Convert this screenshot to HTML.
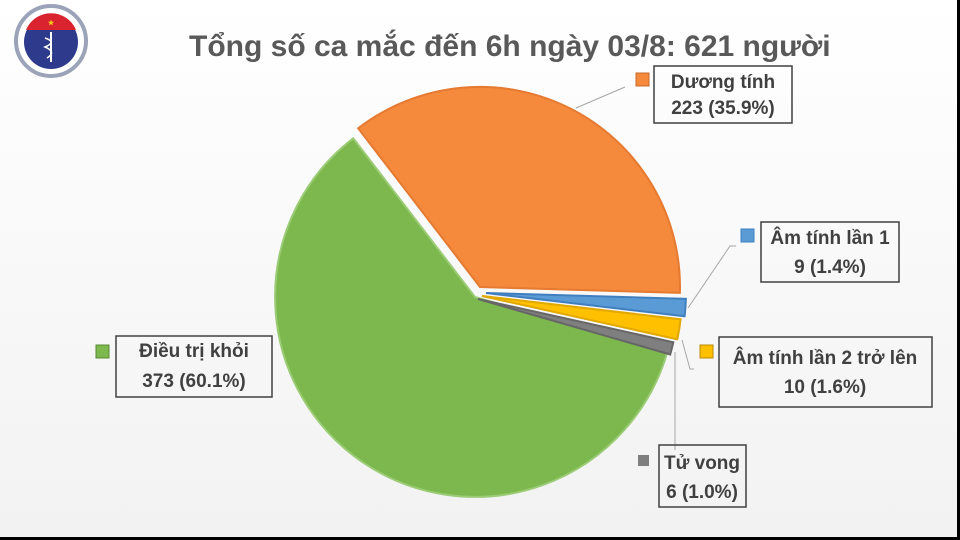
<!DOCTYPE html>
<html><head><meta charset="utf-8"><style>
html,body{margin:0;padding:0;background:#000}
svg{display:block}
text{font-family:"Liberation Sans",sans-serif;font-weight:bold}
</style></head><body>
<svg width="960" height="540" viewBox="0 0 960 540">
<defs><linearGradient id="bg" x1="0" y1="0" x2="0" y2="1"><stop offset="0" stop-color="#ffffff"/><stop offset="1" stop-color="#f2f2f2"/></linearGradient></defs>
<rect x="0" y="0" width="957" height="537" fill="url(#bg)"/>
<!-- logo -->
<circle cx="51" cy="41" r="35" fill="#fff" stroke="#9aa3b8" stroke-width="4"/>
<circle cx="51" cy="42" r="27" fill="#2e3a8c"/>
<path d="M26,30 A27,27 0 0 1 76,30 Z" fill="#d9232e"/>
<text x="51" y="25" font-size="7" fill="#f7d117" text-anchor="middle">★</text>
<path d="M51,32 L51,62" stroke="#fff" stroke-width="2"/>
<path d="M45,38 Q57,42 45,47 Q57,52 47,58" stroke="#fff" stroke-width="1.5" fill="none"/>
<text x="189" y="56" font-size="30" fill="#595959">Tổng số ca mắc đến 6h ngày 03/8: 621 người</text>
<!-- pie -->
<g stroke-width="2">
<path d="M475,297 L667.2,352.5 A200,200 0 1 1 353.2,138.3 Z" fill="#7cb84e" stroke="#9bcc75"/>
<path d="M480,287 L358.2,128.3 A200,200 0 0 1 679.9,292.9 Z" fill="#f5893c" stroke="#e57a30"/>
<path d="M486,293 L685.9,298.9 A200,200 0 0 1 684.6,316.3 Z" fill="#5b9bd5" stroke="#3f7fc0"/>
<path d="M482,296 L680.6,319.3 A200,200 0 0 1 677.3,339.3 Z" fill="#ffc000" stroke="#e0a800"/>
<path d="M478,299 L673.3,342.3 A200,200 0 0 1 670.2,354.5 Z" fill="#7f7f7f" stroke="#666"/>
</g>
<!-- leaders -->
<g stroke="#a6a6a6" stroke-width="1" fill="none">
<path d="M576,108 L625,87"/>
<path d="M688,308 L730,246 L736,246"/>
<path d="M682,340 L690,369 L694,369"/>
<path d="M675,352 L675,450"/>
</g>
<!-- labels -->
<g fill="none" stroke="#404040" stroke-width="1.5">
<rect x="654" y="66" width="138" height="57"/>
<rect x="761" y="222" width="138" height="60"/>
<rect x="719" y="337" width="213" height="70"/>
<rect x="659" y="445" width="87" height="62"/>
<rect x="116" y="336" width="156" height="61"/>
</g>
<rect x="636" y="73" width="13" height="13" fill="#f5893c" stroke="#c66a2a"/>
<rect x="741" y="229" width="13" height="13" fill="#5b9bd5" stroke="#3f7fc0"/>
<rect x="700" y="345" width="13" height="13" fill="#ffc000" stroke="#b88a00"/>
<rect x="638" y="455" width="11" height="11" fill="#7f7f7f"/>
<rect x="96" y="345" width="13" height="13" fill="#7cb84e" stroke="#5c8a38"/>
<g font-size="19" fill="#404040" text-anchor="middle">
<text x="723" y="88">Dương tính</text>
<text x="723" y="114">223 (35.9%)</text>
<text x="830" y="244">Âm tính lần 1</text>
<text x="830" y="273">9 (1.4%)</text>
<text x="825" y="364">Âm tính lần 2 trở lên</text>
<text x="825" y="393">10 (1.6%)</text>
<text x="702" y="469">Tử vong</text>
<text x="702" y="498">6 (1.0%)</text>
<text x="194" y="357">Điều trị khỏi</text>
<text x="194" y="387">373 (60.1%)</text>
</g>
</svg>
</body></html>
